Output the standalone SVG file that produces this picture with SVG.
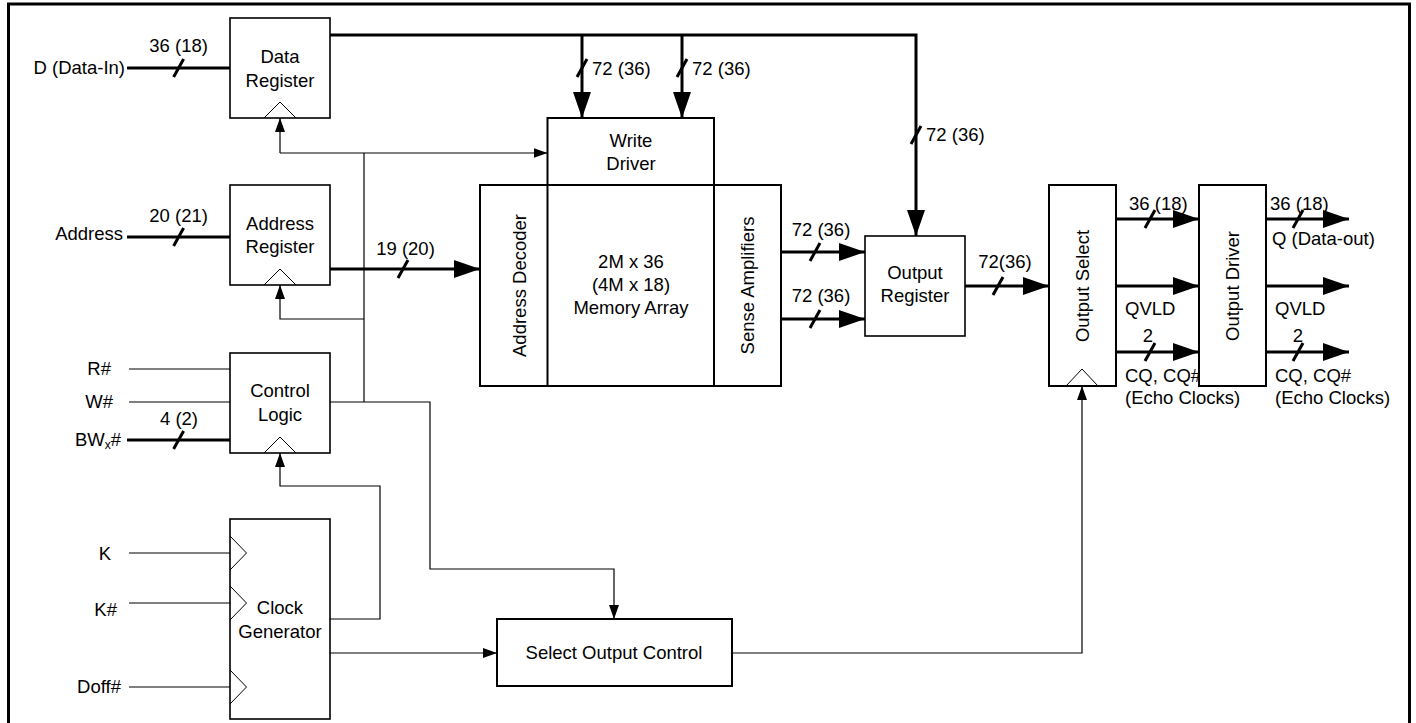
<svg xmlns="http://www.w3.org/2000/svg" width="1416" height="723" viewBox="0 0 1416 723">
<style>
text{font-family:"Liberation Sans",Arial,sans-serif;font-size:18.5px;fill:#000}
.m{text-anchor:middle}
.e{text-anchor:end}
.box{fill:#fff;stroke:#000;stroke-width:1.6}
.bb{fill:#fff;stroke:#000;stroke-width:2}
.ck{fill:none;stroke:#000;stroke-width:1}
.thk{fill:none;stroke:#000;stroke-width:3}
.thn{fill:none;stroke:#000;stroke-width:1.2}
.sl{stroke:#000;stroke-width:3;fill:none}
</style>
<defs>
<marker id="ab" markerUnits="userSpaceOnUse" markerWidth="26" markerHeight="18" viewBox="0 0 26 18" refX="26" refY="9" orient="auto"><path d="M0,0 L26,9 L0,18 z" fill="#000"/></marker>
<marker id="as" markerUnits="userSpaceOnUse" markerWidth="14" markerHeight="10" viewBox="0 0 14 10" refX="14" refY="5" orient="auto"><path d="M0,0 L14,5 L0,10 z" fill="#000"/></marker>
</defs>
<rect x="8.5" y="4" width="1401" height="725" fill="#fff" stroke="#000" stroke-width="3"/>

<g id="connectors">
<path class="thk" d="M127,68 H230"/>
<path class="thk" d="M127,237 H230"/>
<path class="thk" d="M127,440 H230"/>
<path class="thk" d="M330,35 H916 V236" marker-end="url(#ab)"/>
<path class="thk" d="M582,35 V118" marker-end="url(#ab)"/>
<path class="thk" d="M682,35 V118" marker-end="url(#ab)"/>
<path class="thk" d="M330,269 H480" marker-end="url(#ab)"/>
<path class="thk" d="M781,252 H865" marker-end="url(#ab)"/>
<path class="thk" d="M781,319 H865" marker-end="url(#ab)"/>
<path class="thk" d="M965,286 H1049" marker-end="url(#ab)"/>
<path class="thk" d="M1116,219 H1199" marker-end="url(#ab)"/>
<path class="thk" d="M1116,286 H1199" marker-end="url(#ab)"/>
<path class="thk" d="M1116,352 H1199" marker-end="url(#ab)"/>
<path class="thk" d="M1266,219 H1349" marker-end="url(#ab)"/>
<path class="thk" d="M1266,286 H1349" marker-end="url(#ab)"/>
<path class="thk" d="M1266,352 H1349" marker-end="url(#ab)"/>
<path class="sl" d="M173.6,77 L183.6,59 M173.6,246 L183.6,228 M173.6,449 L183.6,431 M577,77 L587,59 M677,77 L687,59 M911,144 L921,126 M398,278 L408,260 M810,261 L820,243 M810,328 L820,310 M993,295 L1003,277 M1145,228 L1155,210 M1145,361 L1155,343 M1293,228 L1303,210 M1293,361 L1303,343"/>
<path class="thn" d="M129,369 H230 M129,402 H230 M129,553 H230 M129,603 H230 M129,687 H230"/>
<path class="thn" d="M280,153 H547.5" marker-end="url(#as)"/>
<path class="thn" d="M280,153 V118" marker-end="url(#as)"/>
<path class="thn" d="M364,153 V402"/>
<path class="thn" d="M364,319 H280 V285" marker-end="url(#as)"/>
<path class="thn" d="M330,402 H430 V569 H614 V619" marker-end="url(#as)"/>
<path class="thn" d="M330,619 H380 V486 H280 V453" marker-end="url(#as)"/>
<path class="thn" d="M330,653 H497" marker-end="url(#as)"/>
<path class="thn" d="M732,653 H1082 V386" marker-end="url(#as)"/>
</g>

<g id="labels">
<text x="125" y="74" class="e">D (Data-In)</text>
<text x="123" y="240" class="e">Address</text>
<text x="111" y="375" class="e">R#</text>
<text x="113" y="408" class="e">W#</text>
<text x="121" y="446" class="e">BW<tspan font-size="12" dy="3">x</tspan><tspan dy="-3">#</tspan></text>
<text x="111" y="560" class="e">K</text>
<text x="117" y="616" class="e">K#</text>
<text x="121" y="693" class="e">Doff#</text>
<text x="178.6" y="52" class="m">36 (18)</text>
<text x="178.6" y="222" class="m">20 (21)</text>
<text x="179" y="425" class="m">4 (2)</text>
<text x="592" y="75">72 (36)</text>
<text x="692" y="75">72 (36)</text>
<text x="926" y="141">72 (36)</text>
<text x="405.5" y="255" class="m">19 (20)</text>
<text x="821" y="236" class="m">72 (36)</text>
<text x="821" y="302" class="m">72 (36)</text>
<text x="1005" y="268" class="m">72(36)</text>
<text x="1129" y="210">36 (18)</text>
<text x="1270" y="210">36 (18)</text>
<text x="1272" y="245">Q (Data-out)</text>
<text x="1125" y="315">QVLD</text>
<text x="1275" y="315">QVLD</text>
<text x="1148" y="342" class="m">2</text>
<text x="1298" y="342" class="m">2</text>
<text x="1125" y="382">CQ, CQ#</text>
<text x="1125" y="404">(Echo Clocks)</text>
<text x="1275" y="382">CQ, CQ#</text>
<text x="1275" y="404">(Echo Clocks)</text>
</g>

<g id="data-register">
<rect class="box" x="230" y="18" width="100" height="100"/>
<polyline class="ck" points="264,118 280,102 296,118"/>
<text x="280" y="63" class="m">Data</text>
<text x="280" y="87" class="m">Register</text>
</g>
<g id="address-register">
<rect class="box" x="230" y="185" width="100" height="100"/>
<polyline class="ck" points="264,285 280,269 296,285"/>
<text x="280" y="230" class="m">Address</text>
<text x="280" y="253" class="m">Register</text>
</g>
<g id="control-logic">
<rect class="box" x="230" y="353" width="100" height="100"/>
<polyline class="ck" points="264,453 280,437 296,453"/>
<text x="280" y="397" class="m">Control</text>
<text x="280" y="421" class="m">Logic</text>
</g>
<g id="clock-generator">
<rect class="box" x="230" y="519" width="100" height="200"/>
<polyline class="ck" points="230,536 246.5,553 230,570"/>
<polyline class="ck" points="230,586 246.5,603 230,620"/>
<polyline class="ck" points="230,670 246.5,687 230,704"/>
<text x="280" y="614" class="m">Clock</text>
<text x="280" y="638" class="m">Generator</text>
</g>
<g id="write-driver">
<rect class="bb" x="547.5" y="118" width="166.5" height="67"/>
<text x="631" y="147" class="m">Write</text>
<text x="631" y="170" class="m">Driver</text>
</g>
<g id="memory-array">
<rect class="bb" x="480" y="185" width="301" height="201"/>
<line x1="547.5" y1="185" x2="547.5" y2="386" stroke="#000" stroke-width="2"/>
<line x1="714" y1="185" x2="714" y2="386" stroke="#000" stroke-width="2"/>
<text class="m" transform="translate(519,285.5) rotate(-90)" dy="6.5">Address Decoder</text>
<text x="631" y="268" class="m">2M x 36</text>
<text x="631" y="291" class="m">(4M x 18)</text>
<text x="631" y="314" class="m">Memory Array</text>
<text class="m" transform="translate(747.5,285.5) rotate(-90)" dy="6.5">Sense Amplifiers</text>
</g>
<g id="output-register">
<rect class="box" x="865" y="236" width="100" height="100"/>
<text x="915" y="279" class="m">Output</text>
<text x="915" y="302" class="m">Register</text>
</g>
<g id="output-select">
<rect class="bb" x="1049" y="185" width="67" height="201"/>
<polyline class="ck" points="1066,386 1082,369 1098,386"/>
<text class="m" transform="translate(1082,286) rotate(-90)" dy="6.5">Output Select</text>
</g>
<g id="output-driver">
<rect class="bb" x="1199" y="185" width="67" height="201"/>
<text class="m" transform="translate(1232,286) rotate(-90)" dy="6.5">Output Driver</text>
</g>
<g id="select-output-control">
<rect class="bb" x="497" y="619" width="235" height="67"/>
<text x="614" y="659" class="m">Select Output Control</text>
</g>
</svg>
